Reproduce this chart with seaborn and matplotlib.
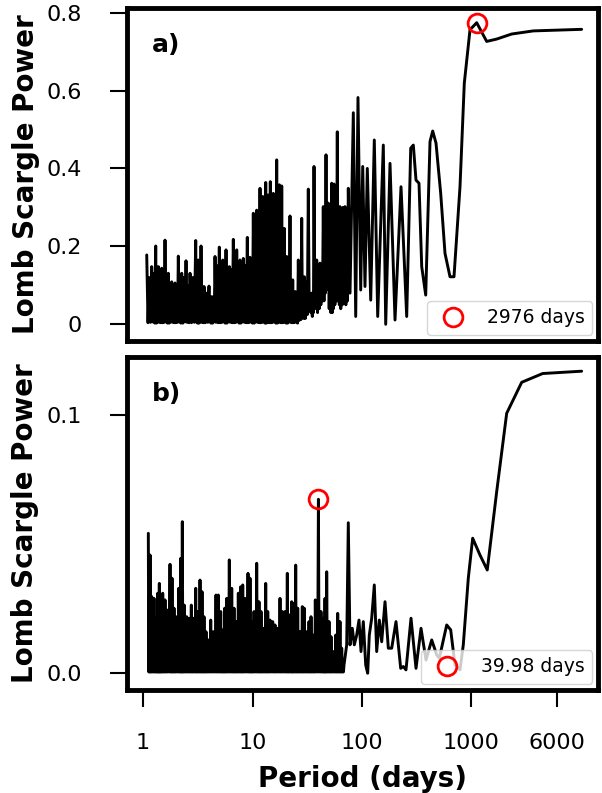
import numpy as np
import pandas as pd
import matplotlib
matplotlib.use("Agg")
import matplotlib.pyplot as plt
from matplotlib.ticker import NullLocator, FixedLocator, FixedFormatter
import seaborn as sns

# ---------------- Panel a data (period in days, Lomb-Scargle power) ----------------
# main peaks of the dense short-period forest
a_peak_period = [1.081, 1.201, 1.306, 1.380, 1.482, 1.588, 1.702, 1.828, 1.960, 2.101,
                 2.256, 2.470, 2.687, 3.029, 3.199, 3.386, 3.606, 4.006, 4.240, 4.545,
                 4.975, 5.344, 5.728, 6.139, 6.678, 7.173, 7.688, 8.241, 8.964, 9.488,
                 10.17, 10.92, 11.71, 12.39, 13.20, 13.94, 14.54, 15.49, 16.63, 17.57,
                 18.48, 19.52, 20.53, 22.00, 23.29, 24.60, 26.20, 28.14, 29.72, 32.33,
                 34.72, 36.45, 38.58, 41.35, 44.30, 46.91, 49.24, 52.88, 55.49, 59.47,
                 62.94, 67.05, 69.93, 74.96]
a_peak_power = [0.178, 0.148, 0.201, 0.148, 0.144, 0.216, 0.131, 0.109, 0.106, 0.175,
                0.131, 0.163, 0.131, 0.215, 0.165, 0.201, 0.097, 0.098, 0.071, 0.174,
                0.198, 0.165, 0.191, 0.148, 0.218, 0.191, 0.165, 0.169, 0.223, 0.172,
                0.285, 0.293, 0.349, 0.328, 0.364, 0.332, 0.366, 0.336, 0.422, 0.358,
                0.355, 0.246, 0.174, 0.278, 0.114, 0.084, 0.165, 0.272, 0.122, 0.347,
                0.080, 0.405, 0.165, 0.157, 0.302, 0.435, 0.311, 0.362, 0.360, 0.494,
                0.302, 0.300, 0.302, 0.349]
# secondary peaks between the main ones
a_sub_period = [1.139, 1.252, 1.342, 1.430, 1.534, 1.644, 1.764, 1.893, 2.029, 2.177,
                2.361, 2.576, 2.853, 3.113, 3.291, 3.494, 3.801, 4.121, 4.390, 4.755,
                5.156, 5.533, 5.930, 6.403, 6.921, 7.426, 7.960, 8.595, 9.222, 9.823,
                10.54, 11.31, 12.05, 12.79, 13.56, 14.24, 15.01, 16.05, 17.09, 18.02,
                18.99, 20.02, 21.25, 22.64, 23.94, 25.39, 27.15, 28.92, 31.00, 33.50,
                35.58, 37.50, 39.94, 42.80, 45.59, 48.06, 51.03, 54.17, 57.45, 61.18,
                64.96, 68.47, 72.40]
a_sub_power = [0.12, 0.13, 0.12, 0.11, 0.12, 0.11, 0.09, 0.08, 0.09, 0.11,
               0.12, 0.10, 0.12, 0.14, 0.13, 0.09, 0.08, 0.06, 0.07, 0.15,
               0.14, 0.15, 0.13, 0.14, 0.17, 0.15, 0.14, 0.15, 0.16, 0.16,
               0.24, 0.26, 0.29, 0.30, 0.30, 0.31, 0.30, 0.31, 0.33, 0.31,
               0.22, 0.15, 0.16, 0.10, 0.07, 0.07, 0.15, 0.11, 0.11, 0.07,
               0.07, 0.15, 0.14, 0.14, 0.27, 0.28, 0.29, 0.32, 0.32, 0.27,
               0.26, 0.26, 0.27]
# minima on either side of each secondary peak
a_trough1_period = [1.111, 1.227, 1.325, 1.406, 1.509, 1.617, 1.734, 1.861, 1.995, 2.140,
                    2.310, 2.524, 2.773, 3.072, 3.246, 3.441, 3.706, 4.065, 4.316, 4.653,
                    5.067, 5.440, 5.831, 6.274, 6.802, 7.302, 7.826, 8.422, 9.095, 9.659,
                    10.36, 11.12, 11.88, 12.59, 13.39, 14.09, 14.78, 15.78, 16.87, 17.80,
                    18.74, 19.77, 20.90, 22.32, 23.62, 25.00, 26.69, 28.54, 30.37, 32.93,
                    35.15, 36.98, 39.27, 42.09, 44.95, 47.49, 50.15, 53.53, 56.49, 60.34,
                    63.97, 67.77, 71.19]
a_trough2_period = [1.171, 1.280, 1.362, 1.457, 1.562, 1.674, 1.797, 1.927, 2.066, 2.217,
                    2.417, 2.633, 2.944, 3.157, 3.339, 3.551, 3.906, 4.182, 4.469, 4.868,
                    5.252, 5.632, 6.036, 6.543, 7.049, 7.559, 8.103, 8.783, 9.357, 9.999,
                    10.73, 11.51, 12.22, 13.00, 13.76, 14.39, 15.25, 16.35, 17.34, 18.25,
                    19.26, 20.28, 21.63, 22.97, 24.27, 25.80, 27.66, 29.33, 31.68, 34.12,
                    36.02, 38.05, 40.66, 43.56, 46.26, 48.66, 51.97, 54.84, 58.48, 62.07,
                    66.02, 69.21, 73.70]
a_trough1_power = [0.004, 0.006, 0.003, 0.005, 0.004, 0.006, 0.003, 0.005, 0.004, 0.006,
                   0.003, 0.005, 0.004, 0.006, 0.003, 0.005, 0.004, 0.006, 0.003, 0.005,
                   0.004, 0.006, 0.003, 0.005, 0.004, 0.006, 0.003, 0.005, 0.004, 0.006,
                   0.003, 0.005, 0.004, 0.006, 0.003, 0.005, 0.004, 0.006, 0.003, 0.005,
                   0.004, 0.006, 0.003, 0.005, 0.004, 0.006, 0.010, 0.020, 0.015, 0.040,
                   0.020, 0.050, 0.030, 0.050, 0.060, 0.110, 0.040, 0.030, 0.050, 0.060,
                   0.040, 0.070, 0.050]
a_trough2_power = [0.005, 0.003, 0.006, 0.004, 0.005, 0.003, 0.006, 0.004, 0.005, 0.003,
                   0.006, 0.004, 0.005, 0.003, 0.006, 0.004, 0.005, 0.003, 0.006, 0.004,
                   0.005, 0.003, 0.006, 0.004, 0.005, 0.003, 0.006, 0.004, 0.005, 0.003,
                   0.006, 0.004, 0.005, 0.003, 0.006, 0.004, 0.005, 0.003, 0.006, 0.004,
                   0.005, 0.003, 0.006, 0.004, 0.005, 0.003, 0.012, 0.015, 0.025, 0.030,
                   0.030, 0.040, 0.040, 0.060, 0.080, 0.090, 0.030, 0.040, 0.060, 0.050,
                   0.050, 0.060, 0.060]
a_long_period = [77.7, 83.3, 87.6, 91.9, 97.3, 101.5, 106.5, 111.8, 120.1, 129.5,
                 139.1, 156.5, 164.6, 180.2, 200.2, 227.1, 256.0, 278.5, 294.2, 311.3,
                 331.6, 351.0, 381.8, 417.9, 442.3, 474.1, 523.2, 572.8, 636.3, 692.1,
                 785.2, 859.5, 969.1, 1115.6, 1376.0, 1698.0, 2328.0, 3667.0, 10140.0]
a_long_power = [0.080, 0.543, 0.020, 0.582, 0.088, 0.405, 0.097, 0.400, 0.062, 0.473,
                0.020, 0.460, 0.000, 0.413, 0.011, 0.353, 0.020, 0.452, 0.460, 0.370,
                0.362, 0.148, 0.075, 0.469, 0.496, 0.465, 0.336, 0.182, 0.122, 0.122,
                0.353, 0.619, 0.756, 0.774, 0.726, 0.732, 0.745, 0.753, 0.757]

# ---------------- Panel b data ----------------
b_peak_period = [1.118, 1.159, 1.201, 1.260, 1.314, 1.362, 1.409, 1.460, 1.513, 1.588,
                 1.656, 1.764, 1.840, 1.919, 2.002, 2.118, 2.209, 2.285, 2.383, 2.506,
                 2.631, 2.761, 2.880, 3.029, 3.159, 3.315, 3.458, 3.606, 3.761, 3.948,
                 4.152, 4.386, 4.641, 4.871, 5.124, 5.344, 5.573, 5.812, 6.139, 6.457,
                 6.777, 7.068, 7.419, 7.803, 8.138, 8.541, 9.097, 9.488, 9.896, 10.32,
                 10.92, 11.46, 11.96, 12.55, 13.20, 13.77, 14.45, 15.29, 16.05, 16.85,
                 17.83, 18.71, 19.81, 20.79, 21.68, 22.80, 23.58, 24.80, 25.87, 27.15,
                 28.50, 29.72, 31.26, 32.81, 34.22, 35.91, 37.46, 39.98, 42.20, 44.30,
                 45.92, 47.59, 49.97, 52.12, 54.69, 57.52, 59.99, 62.94, 65.24, 68.48]
b_peak_power = [0.0542, 0.0458, 0.0297, 0.0290, 0.0213, 0.0310, 0.0348, 0.0239, 0.0310, 0.0284,
                0.0245, 0.0422, 0.0368, 0.0252, 0.0219, 0.0329, 0.0445, 0.0587, 0.0264, 0.0219,
                0.0213, 0.0264, 0.0213, 0.0329, 0.0239, 0.0361, 0.0316, 0.0219, 0.0161, 0.0129,
                0.0206, 0.0161, 0.0303, 0.0303, 0.0239, 0.0168, 0.0252, 0.0290, 0.0439, 0.0329,
                0.0252, 0.0200, 0.0310, 0.0335, 0.0342, 0.0290, 0.0387, 0.0368, 0.0200, 0.0239,
                0.0426, 0.0277, 0.0239, 0.0174, 0.0348, 0.0239, 0.0206, 0.0200, 0.0187, 0.0174,
                0.0290, 0.0239, 0.0239, 0.0387, 0.0226, 0.0277, 0.0271, 0.0419, 0.0252, 0.0161,
                0.0258, 0.0252, 0.0161, 0.0200, 0.0219, 0.0148, 0.0284, 0.0674, 0.0239, 0.0213,
                0.0290, 0.0393, 0.0200, 0.0142, 0.0084, 0.0148, 0.0232, 0.0200, 0.0097, 0.0032]
b_sub_period = [1.138, 1.180, 1.230, 1.287, 1.338, 1.385, 1.434, 1.486, 1.550, 1.622,
                1.710, 1.802, 1.879, 1.960, 2.060, 2.163, 2.247, 2.334, 2.444, 2.568,
                2.696, 2.820, 2.954, 3.094, 3.237, 3.386, 3.532, 3.683, 3.854, 4.050,
                4.269, 4.513, 4.756, 4.997, 5.234, 5.458, 5.692, 5.975, 6.298, 6.617,
                6.922, 7.243, 7.611, 7.970, 8.339, 8.819, 9.292, 9.692, 10.11, 10.62,
                11.19, 11.71, 12.25, 12.87, 13.48, 14.11, 14.87, 15.67, 16.45, 17.34,
                18.27, 19.26, 20.30, 21.23, 22.24, 23.19, 24.19, 25.33, 26.51, 27.82,
                29.11, 30.49, 32.03, 33.51, 35.06, 36.68, 38.70, 41.09, 43.25, 45.11,
                46.75, 48.78, 51.04, 53.40, 56.10, 58.75, 61.46, 64.09, 66.86]
b_sub_power = [0.030, 0.022, 0.022, 0.018, 0.018, 0.024, 0.020, 0.020, 0.022, 0.020,
               0.021, 0.026, 0.021, 0.018, 0.019, 0.024, 0.030, 0.021, 0.018, 0.017,
               0.018, 0.017, 0.019, 0.020, 0.020, 0.024, 0.018, 0.013, 0.011, 0.011,
               0.013, 0.014, 0.022, 0.019, 0.014, 0.015, 0.020, 0.023, 0.024, 0.020,
               0.016, 0.017, 0.024, 0.025, 0.022, 0.023, 0.026, 0.016, 0.017, 0.020,
               0.021, 0.019, 0.014, 0.015, 0.019, 0.016, 0.015, 0.014, 0.013, 0.015,
               0.019, 0.018, 0.020, 0.018, 0.019, 0.021, 0.022, 0.020, 0.013, 0.014,
               0.019, 0.013, 0.014, 0.016, 0.012, 0.013, 0.022, 0.019, 0.016, 0.017,
               0.023, 0.016, 0.011, 0.006, 0.007, 0.012, 0.015, 0.008, 0.002]
b_trough1_period = [1.128, 1.170, 1.216, 1.274, 1.326, 1.374, 1.422, 1.473, 1.532, 1.605,
                    1.683, 1.783, 1.860, 1.940, 2.031, 2.141, 2.228, 2.310, 2.414, 2.537,
                    2.664, 2.791, 2.917, 3.062, 3.198, 3.351, 3.495, 3.645, 3.808, 3.999,
                    4.211, 4.450, 4.699, 4.934, 5.179, 5.401, 5.633, 5.894, 6.219, 6.537,
                    6.850, 7.156, 7.515, 7.887, 8.239, 8.680, 9.195, 9.590, 10.00, 10.47,
                    11.06, 11.59, 12.11, 12.71, 13.34, 13.94, 14.66, 15.48, 16.25, 17.10,
                    18.05, 18.99, 20.06, 21.01, 21.96, 23.00, 23.89, 25.07, 26.19, 27.49,
                    28.81, 30.11, 31.65, 33.16, 34.64, 36.30, 38.09, 40.54, 42.73, 44.71,
                    46.34, 48.19, 50.51, 52.76, 55.40, 58.14, 60.73, 63.52, 66.05]
b_trough2_period = [1.149, 1.191, 1.245, 1.301, 1.350, 1.397, 1.447, 1.500, 1.569, 1.639,
                    1.737, 1.821, 1.899, 1.981, 2.089, 2.186, 2.266, 2.359, 2.475, 2.600,
                    2.729, 2.850, 2.992, 3.127, 3.276, 3.422, 3.569, 3.722, 3.901, 4.101,
                    4.328, 4.577, 4.814, 5.061, 5.289, 5.516, 5.752, 6.057, 6.378, 6.697,
                    6.995, 7.331, 7.707, 8.054, 8.440, 8.958, 9.390, 9.794, 10.21, 10.77,
                    11.33, 11.84, 12.40, 13.04, 13.63, 14.28, 15.08, 15.86, 16.65, 17.59,
                    18.49, 19.54, 20.55, 21.46, 22.52, 23.39, 24.50, 25.60, 26.83, 28.16,
                    29.42, 30.88, 32.42, 33.87, 35.49, 37.07, 39.35, 41.65, 43.78, 45.52,
                    47.17, 49.38, 51.58, 54.05, 56.81, 59.37, 62.20, 64.67, 67.67]
b_trough1_power = [0.0005] * 89
b_trough2_power = [0.0005] * 89
b_long_period = [72.49, 74.96, 77.71, 81.55, 85.05, 89.46, 93.88, 97.92, 102.8, 108.1,
                 112.7, 116.6, 122.6, 129.5, 136.2, 143.9, 151.3, 162.2, 173.9, 186.7,
                 204.4, 225.6, 238.3, 252.2, 280.3, 311.3, 345.9, 384.2, 433.1, 481.2,
                 508.2, 593.7, 645.6, 706.7, 785.2, 841.6, 934.9, 1025.0, 1195.0, 1393.0,
                 1698.0, 2096.0, 2874.0, 4469.0, 10140.0]
b_long_power = [0.0110, 0.0583, 0.0110, 0.0174, 0.0110, 0.0148, 0.0206, 0.0084, 0.0200, 0.0032,
                0.0000, 0.0148, 0.0213, 0.0342, 0.0084, 0.0206, 0.0122, 0.0277, 0.0097, 0.0097,
                0.0200, 0.0019, 0.0026, 0.0013, 0.0213, 0.0019, 0.0174, 0.0051, 0.0129, 0.0071,
                0.0058, 0.0187, 0.0168, 0.0032, 0.0013, 0.0110, 0.0368, 0.0523, 0.0458, 0.0400,
                0.0703, 0.1007, 0.1127, 0.1161, 0.1170]

legend_a = "2976 days"
legend_b = "39.98 days"
b_marker_period = 39.98
x_ticks = [1, 10, 100, 1000, 6000]
x_tick_labels = ["1", "10", "100", "1000", "6000"]
a_yticks = [0, 0.2, 0.4, 0.6, 0.8]
a_ytick_labels = ["0", "0.2", "0.4", "0.6", "0.8"]
b_yticks = [0.0, 0.1]
b_ytick_labels = ["0.0", "0.1"]

df_a = pd.DataFrame({
    "period": a_peak_period + a_sub_period + a_trough1_period + a_trough2_period + a_long_period,
    "power": a_peak_power + a_sub_power + a_trough1_power + a_trough2_power + a_long_power,
}).sort_values("period")
df_b = pd.DataFrame({
    "period": b_peak_period + b_sub_period + b_trough1_period + b_trough2_period + b_long_period,
    "power": b_peak_power + b_sub_power + b_trough1_power + b_trough2_power + b_long_power,
}).sort_values("period")

sns.set_style("ticks")
plt.rcParams["font.family"] = ["DejaVu Sans"]
plt.rcParams["text.color"] = "black"
plt.rcParams["axes.labelcolor"] = "black"
plt.rcParams["xtick.color"] = "black"
plt.rcParams["ytick.color"] = "black"
plt.rcParams["path.simplify"] = False

W, H = 602, 793
fig = plt.figure(figsize=(W / 100, H / 100), dpi=100)
ax_a = fig.add_axes([127 / W, 1 - 340.5 / H, 471 / W, 332.2 / H])
ax_b = fig.add_axes([127 / W, 1 - 689.5 / H, 471 / W, 332.5 / H])

for ax, df, lab, yt, ytl, ylim, tag in [
    (ax_a, df_a, legend_a, a_yticks, a_ytick_labels, (-0.0416, 0.811), "a)"),
    (ax_b, df_b, legend_b, b_yticks, b_ytick_labels, (-0.0063, 0.1225), "b)"),
]:
    sns.lineplot(data=df, x="period", y="power", ax=ax, color="black", linewidth=2.1,
                 estimator=None, sort=True)
    ax.set_xscale("log")
    ax.set_xlim(0.714, 14300)
    ax.set_ylim(*ylim)
    if ax is ax_a:
        pk = df.loc[df["power"].idxmax()]
    else:
        pk = df.loc[(df["period"] - b_marker_period).abs().idxmin()]
    ax.plot([pk["period"]], [pk["power"]], "o", mfc="none", mec="red", ms=13.5, mew=2.0,
            label=lab, zorder=5)
    ax.legend(loc="lower right", fontsize=13.5, borderaxespad=0.3)
    ax.xaxis.set_major_locator(FixedLocator(x_ticks))
    ax.xaxis.set_major_formatter(FixedFormatter(x_tick_labels))
    ax.xaxis.set_minor_locator(NullLocator())
    ax.set_yticks(yt)
    ax.set_yticklabels(ytl)
    ax.tick_params(axis="both", length=12.5, width=1.5, labelsize=16, color="black",
                   labelcolor="black")
    ax.tick_params(axis="y", pad=20)
    ax.tick_params(axis="x", pad=19)
    for sp in ax.spines.values():
        sp.set_visible(True)
        sp.set_linewidth(3.5)
        sp.set_color("black")
    ax.set_ylabel("Lomb Scargle Power", fontsize=20, fontweight="bold", labelpad=5,
                  color="black")
    ax.text(0.053, 0.889, tag, transform=ax.transAxes, fontsize=18, fontweight="bold",
            va="center", ha="left", color="black")

ax_a.tick_params(axis="x", bottom=False, labelbottom=False)
ax_a.set_xlabel("")
ax_b.set_xlabel("Period (days)", fontsize=20, fontweight="bold", labelpad=8.5, color="black")
fig.align_ylabels([ax_a, ax_b])

fig.savefig("out.png", dpi=100)
